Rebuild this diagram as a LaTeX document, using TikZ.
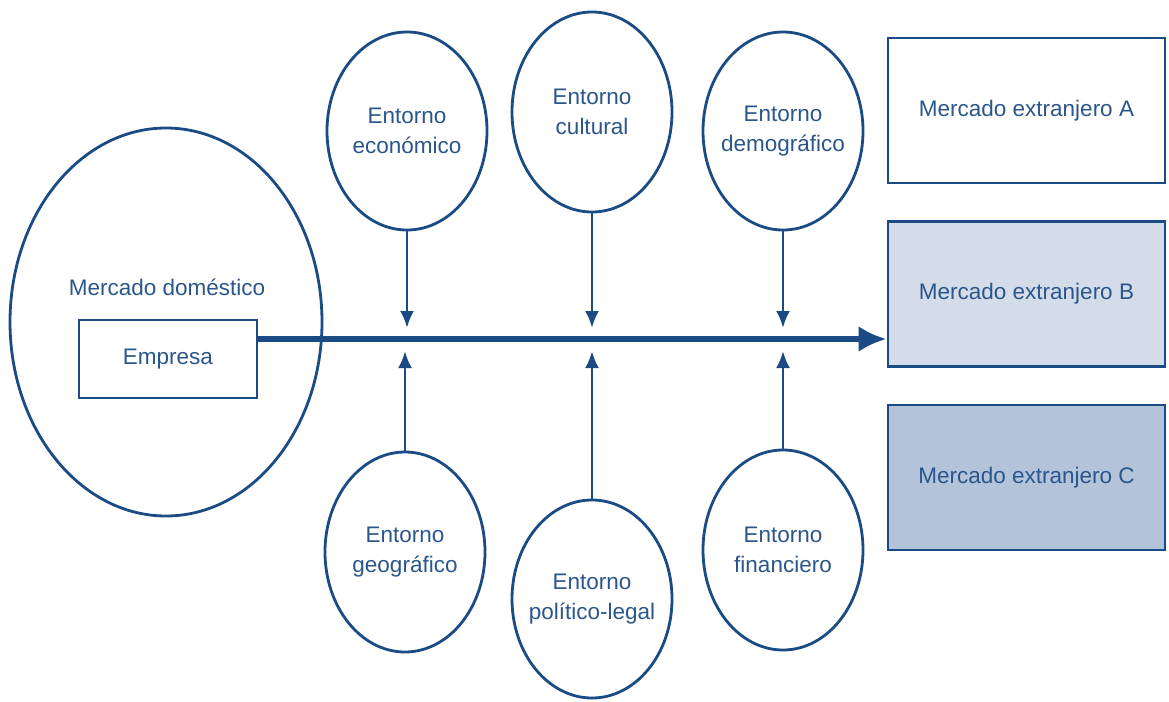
\documentclass[tikz,border=0pt]{standalone}
\usepackage{fontspec}
\setmainfont{Liberation Sans}
\usetikzlibrary{shapes.geometric,arrows.meta}
\definecolor{navy}{HTML}{1A4B84}
\definecolor{txt}{HTML}{2A568C}
\definecolor{fillB}{HTML}{D3DCE8}
\definecolor{fillC}{HTML}{B3C3DA}
\tikzset{
  lbl/.style={text=txt, font=\fontsize{22.5}{30}\selectfont},
  env/.style={lbl, draw=navy, line width=2.8pt, ellipse, inner sep=-25pt, align=center,
    minimum width=160pt, minimum height=198pt},
  mkt/.style={lbl, draw=navy, line width=2.8pt, rectangle, inner sep=0pt,
    minimum width=277pt, minimum height=145pt},
  smallarrow/.style={draw=navy, line width=2.8pt, -{Latex[length=17pt,width=14pt]}},
  mainarrow/.style={draw=navy, line width=5.5pt, -{Latex[length=28pt,width=26pt]}},
}
\begin{document}
\begin{tikzpicture}[x=1pt,y=-1pt]
\useasboundingbox (0,0) rectangle (1169,701);
% domestic market
\node[env, minimum width=312pt, minimum height=388pt] (dom) at (166,322) {};
\node[lbl] (domlab) at (167,287) {Mercado doméstico};
\node[lbl, draw=navy, line width=2.8pt, minimum width=178pt, minimum height=78pt, inner sep=0pt] (emp) at (168,359) {Empresa};
% environments
\node[env] (eco) at (407,131) {Entorno\\económico};
\node[env, minimum height=200pt] (cul) at (592,112) {Entorno\\cultural};
\node[env] (dem) at (783,131) {Entorno\\demográfico};
\node[env, minimum height=200pt] (geo) at (405,552) {Entorno\\geográfico};
\node[env] (pol) at (592,599) {Entorno\\político-legal};
\node[env, minimum height=200pt] (fin) at (783,550) {Entorno\\financiero};
% markets
\node[mkt, fill=white] (mA) at (1026.5,110.5) {Mercado extranjero A};
\node[mkt, fill=fillB] (mB) at (1026.5,294) {Mercado extranjero B};
\node[mkt, fill=fillC] (mC) at (1026.5,477.5) {Mercado extranjero C};
% axis
\coordinate (axis) at (0,339);
\coordinate (ecoT) at (407,328);
\coordinate (culT) at (592,328);
\coordinate (demT) at (783,328);
\coordinate (geoT) at (405,351);
\coordinate (polT) at (592,351);
\coordinate (finT) at (783,351);
\draw[mainarrow] (emp.east |- axis) -- (mB.west |- axis);
\draw[smallarrow] (eco.south) -- (ecoT);
\draw[smallarrow] (cul.south) -- (culT);
\draw[smallarrow] (dem.south) -- (demT);
\draw[smallarrow] (geo.north) -- (geoT);
\draw[smallarrow] (pol.north) -- (polT);
\draw[smallarrow] (fin.north) -- (finT);
\end{tikzpicture}
\end{document}
